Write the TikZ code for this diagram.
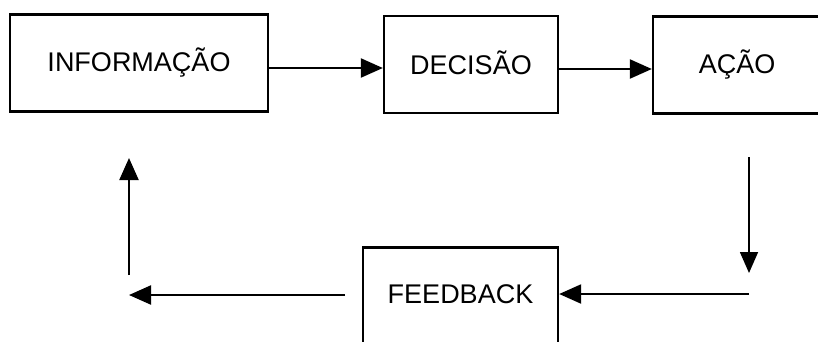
\documentclass[tikz,border=0pt]{standalone}
\usepackage{fontspec}
\setmainfont{Liberation Sans}
\usetikzlibrary{arrows.meta}

\tikzset{
  box/.style={draw, line width=2.3pt, minimum width=#1, minimum height=97pt,
              inner sep=0pt, font=\fontsize{27}{30}\selectfont},
  flow/.style={line width=2.2pt, -{Triangle[length=22pt,width=19pt]}},
  thinflow/.style={line width=1.6pt, -{Triangle[length=21pt,width=18pt]}}
}
\newcommand{\lift}[1]{\raisebox{3pt}{#1}}

\begin{document}
\begin{tikzpicture}[x=1pt,y=-1pt]
  \useasboundingbox (0,0) rectangle (818,341);
  \clip (0,0) rectangle (818,341);

  % process boxes
  \node[box=258pt] (info) at (139,63)    {\lift{INFORMAÇÃO}};
  \node[box=174pt] (dec)  at (471,64.5)  {\lift{DECISÃO}};
  \node[box=168pt] (act)  at (737,65)    {\lift{AÇÃO}};
  \node[box=195pt] (fb)   at (460.5,296) {\lift{FEEDBACK}};

  % free ends of the loop
  \coordinate (downtop)   at (749,157);
  \coordinate (downend)   at (749,273);
  \coordinate (corner)    at (749,294);
  \coordinate (leftstart) at (345,295);
  \coordinate (leftend)   at (129,295);
  \coordinate (upstart)   at (129,275);
  \coordinate (upend)     at (129,158);

  % connectors
  \draw[flow] ([yshift=-5pt]info.east) -- ([yshift=-5pt]info.east -| dec.west);
  \draw[flow] ([yshift=-4.5pt]dec.east) -- ([yshift=-4.5pt]dec.east -| act.west);
  \draw[thinflow] (downtop) -- (downend);
  \draw[flow] (corner) -- (corner -| fb.east);
  \draw[flow] (leftstart) -- (leftend);
  \draw[flow] (upstart) -- (upend);
\end{tikzpicture}
\end{document}
